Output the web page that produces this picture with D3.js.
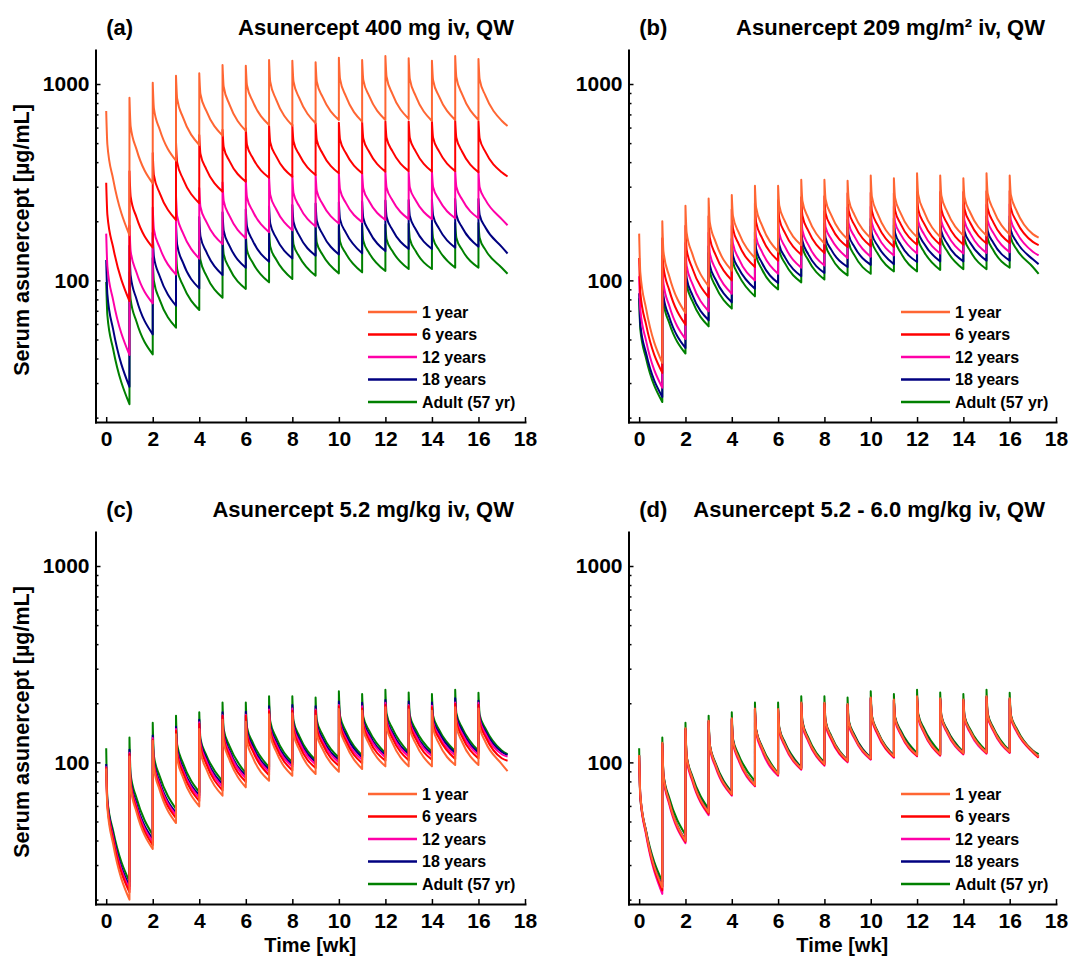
<!DOCTYPE html>
<meta charset="utf-8">
<style>
body { margin: 0; background: #fff; }
text { font-family: "Liberation Sans", Arial, sans-serif; font-weight: bold; fill: #000; }
</style>
<svg width="1070" height="957"></svg>
<script src="https://d3js.org/d3.v7.min.js"></script>
<script>

// series / legend
var seriesNames = ["1 year", "6 years", "12 years", "18 years", "Adult (57 yr)"];
var seriesColors = ["#ff6633", "#ff0000", "#ff00a8", "#000080", "#008000"];

// time axis: weekly doses, samples within each dosing week
var doseWeeks = [0, 1, 2, 3, 4, 5, 6, 7, 8, 9, 10, 11, 12, 13, 14, 15, 16];
var sampleOffsets = [0, 0.05, 0.3, 1];
var endTime = 17.25;

var xTicks = [0, 2, 4, 6, 8, 10, 12, 14, 16, 18];
var yMajorTicks = [100, 1000];
var yMinorTicks = [20, 30, 40, 50, 60, 70, 80, 90, 200, 300, 400, 500, 600, 700, 800, 900];

// (a) 400 mg  -- rows: 1y, 6y, 12y, 18y, adult ; values in ug/mL
var peakA = [
  [729, 851, 1016, 1102, 1133, 1250, 1240, 1325, 1315, 1289, 1362, 1325, 1389, 1352, 1315, 1389, 1341],
  [314, 360, 445, 505, 550, 585, 595, 615, 620, 630, 635, 640, 645, 645, 645, 650, 645],
  [173, 190, 235, 270, 295, 315, 325, 335, 340, 345, 350, 352, 356, 356, 358, 360, 358],
  [127, 150, 175, 195, 210, 222, 230, 238, 242, 246, 250, 252, 255, 257, 258, 260, 260],
  [98, 110, 130, 145, 157, 166, 173, 180, 183, 186, 189, 190, 192, 194, 195, 196, 196]
];
var earlyA = [
  [492, 611, 752, 842, 889, 968, 985, 1028, 1032, 1030, 1062, 1050, 1089, 1062, 1045, 1084, 1059],
  [216, 268, 343, 399, 442, 478, 491, 505, 511, 519, 522, 528, 532, 531, 532, 532, 530],
  [118, 141, 182, 212, 237, 254, 265, 273, 279, 286, 290, 294, 297, 297, 299, 300, 298],
  [85.1, 106, 132, 152, 168, 179, 188, 195, 199, 202, 205, 208, 211, 213, 214, 216, 216],
  [66.5, 80, 99.3, 114, 127, 136, 143, 149, 153, 156, 158, 159, 162, 163, 164, 165, 165]
];
var midA = [
  [327, 466, 587, 676, 731, 786, 816, 835, 847, 859, 867, 869, 891, 871, 867, 885, 873],
  [147, 210, 278, 329, 369, 405, 420, 429, 436, 443, 445, 452, 455, 454, 455, 452, 451],
  [79.1, 110, 147, 174, 199, 213, 225, 231, 238, 245, 248, 253, 256, 256, 258, 258, 257],
  [56.1, 80.4, 105, 123, 140, 150, 159, 165, 169, 172, 175, 178, 181, 182, 184, 186, 186],
  [44.6, 61.7, 79.6, 94.2, 106, 115, 123, 128, 132, 135, 137, 138, 141, 141, 143, 143, 143]
];
var troughA = [
  [170, 312, 407, 489, 546, 577, 618, 614, 631, 656, 643, 656, 664, 648, 656, 656, 650],
  [78.5, 147, 203, 247, 283, 318, 333, 337, 344, 351, 351, 358, 360, 358, 360, 355, 355],
  [41.7, 76.4, 107, 129, 153, 164, 176, 180, 188, 195, 198, 203, 205, 205, 207, 207, 205],
  [28.7, 53.1, 74.3, 91.0, 106.5, 116, 124.5, 129.4, 133.6, 135.6, 137.3, 141, 144.5, 144.5, 146.6, 148.4, 148],
  [23.4, 42.0, 57.4, 70.6, 81.6, 90.4, 97.7, 101.6, 105.6, 108.6, 109.9, 111.6, 114.2, 114.2, 116, 116, 116]
];
var endA = [611, 338, 191, 137, 108];

// (b) 209 mg/m2
var peakB = [
  [173, 200, 240, 261, 272, 303, 303, 325, 325, 322, 342, 331, 351, 342, 331, 351, 342],
  [130, 164, 190, 212, 230, 247, 256, 265, 268, 278, 279, 278, 282, 282, 282, 284, 285],
  [105, 133, 155, 175, 190, 205, 213, 220, 224, 235, 237, 238, 242, 242, 242, 243, 244],
  [86, 112, 131, 149, 163, 177, 183, 191, 195, 203, 206, 207, 210, 211, 211, 212, 212],
  [81, 104, 122, 138, 152, 163, 170, 178, 181, 186, 188, 191, 191, 193, 194, 194, 196]
];
var earlyB = [
  [110, 140, 175, 198, 213, 235, 241, 254, 259, 258, 267, 264, 274, 271, 265, 277, 273],
  [86.8, 117, 144, 165, 184, 198, 207, 214, 220, 226, 226, 228, 230, 230, 231, 233, 234],
  [70.9, 96.5, 119, 138, 154, 166, 174, 180, 187, 195, 196, 198, 200, 200, 201, 202, 203],
  [59.7, 83.1, 103, 120, 134, 145, 152, 159, 165, 171, 173, 175, 177, 178, 178, 179, 180],
  [56.2, 77.3, 95.6, 111, 124, 134, 142, 148, 152, 156, 158, 160, 161, 162, 163, 164, 165]
];
var midB = [
  [71.8, 105, 136, 157, 175, 191, 199, 208, 214, 215, 218, 219, 224, 224, 221, 228, 226],
  [59.5, 89.2, 115, 135, 153, 165, 174, 179, 187, 191, 191, 193, 195, 195, 196, 197, 199],
  [49.2, 74.2, 95.9, 114, 129, 140, 148, 152, 162, 167, 168, 171, 172, 172, 173, 174, 175],
  [42.5, 65.1, 84.1, 101, 115, 123, 131, 136, 143, 148, 150, 152, 154, 154, 155, 155, 157],
  [40.0, 60.7, 78.3, 93.2, 106, 114, 122, 127, 131, 134, 137, 138, 140, 141, 141, 142, 144]
];
var troughB = [
  [38.0, 68.2, 93.2, 112, 130, 140, 151, 154, 162, 164, 161, 166, 166, 169, 169, 171, 172],
  [33.8, 59.5, 82.0, 100, 117, 126, 135, 138, 148, 149, 148, 152, 152, 152, 154, 155, 157],
  [28.4, 50.3, 69.6, 85.5, 100, 108, 116, 119, 130, 132, 134, 137, 137, 137, 138, 139, 140],
  [25.5, 45.3, 62.6, 77.3, 90.7, 96.9, 105, 109, 117, 120, 121, 124, 125, 125, 126, 126, 128],
  [24.0, 42.4, 58.3, 71.8, 82.9, 90.0, 97.7, 101, 106, 108, 111, 111, 113, 114, 114, 116, 117]
];
var endB = [165, 151, 134, 121, 108];

// (c) 5.2 mg/kg
var peakC = [
  [93.2, 107, 129, 139, 148, 165, 161, 176, 178, 173, 187, 183, 191, 186, 183, 191, 188],
  [94.3, 110, 130, 145, 157, 172, 173, 182, 183, 183, 193, 188, 196, 193, 191, 198, 196],
  [95.4, 112, 133, 148, 160, 174, 175, 186, 188, 186, 196, 193, 201, 196, 194, 202, 201],
  [98, 116, 137, 152, 165, 180, 181, 193, 196, 193, 204, 201, 208, 204, 202, 212, 206],
  [118, 134, 159, 173, 180, 202, 202, 217, 217, 214, 230, 223, 234, 227, 223, 234, 226]
];
var earlyC = [
  [58.7, 75.0, 93.8, 105, 114, 127, 128, 139, 141, 139, 148, 148, 152, 149, 149, 153, 152],
  [60.8, 77.3, 96.3, 110, 121, 133, 137, 145, 147, 148, 155, 154, 158, 157, 156, 161, 159],
  [61.9, 79.1, 98.5, 113, 125, 136, 140, 149, 152, 151, 159, 158, 163, 161, 160, 165, 165],
  [63.8, 81.9, 102, 117, 129, 141, 145, 154, 157, 157, 164, 164, 168, 167, 166, 172, 169],
  [65.1, 86.8, 108, 123, 132, 147, 151, 162, 163, 164, 173, 171, 177, 174, 173, 178, 175]
];
var midC = [
  [38.2, 55.9, 72.2, 83.8, 92.5, 103, 106, 114, 116, 117, 123, 124, 126, 125, 125, 127, 127],
  [40.3, 58.0, 75.1, 88.4, 98.3, 108, 114, 120, 122, 124, 129, 130, 133, 132, 133, 135, 135],
  [41.4, 59.8, 77.3, 91.1, 102, 112, 117, 124, 127, 128, 133, 135, 138, 137, 137, 140, 140],
  [42.7, 61.8, 79.6, 93.8, 105, 115, 121, 128, 131, 132, 138, 139, 142, 141, 142, 145, 144],
  [44.7, 66.0, 85.0, 99.1, 109, 121, 126, 134, 136, 138, 144, 145, 149, 147, 147, 150, 149]
];
var troughC = [
  [20.0, 36.2, 49.1, 59.7, 67.7, 74.6, 80.6, 85.5, 87.2, 89.6, 92.5, 95.4, 95.4, 95.4, 96.9, 96.9, 98.1],
  [21.8, 37.9, 52, 63.5, 72, 79.5, 86, 91, 93.5, 96, 99, 102, 102.5, 103, 104, 104.5, 105],
  [22.6, 39.4, 54, 66, 75, 83, 89.5, 95, 97.5, 100, 103, 106, 107, 107.5, 108.5, 109, 110],
  [23.4, 40.7, 55.5, 68, 77.5, 85.5, 92, 97.5, 100, 103, 106, 109, 110, 110.5, 111.5, 112, 113],
  [24.7, 42.7, 58, 70.5, 80, 88, 94.5, 100, 102.5, 105.5, 108.5, 111.5, 112.5, 113, 114, 114.5, 115]
];
var endC = [90.3, 102, 107, 109, 110];

// (d) 5.2 - 6.0 mg/kg
var peakD = [
  [109, 126, 149, 163, 168, 188, 187, 202, 201, 198, 214, 209, 217, 212, 209, 217, 212],
  [108, 124, 148, 162, 166, 187, 185, 200, 199, 196, 212, 207, 215, 210, 207, 215, 210],
  [106, 123, 145, 159, 164, 184, 182, 197, 196, 193, 209, 204, 212, 207, 204, 212, 207],
  [109, 125, 148, 162, 167, 188, 186, 201, 200, 197, 213, 208, 216, 211, 208, 216, 211],
  [118, 134, 159, 173, 180, 202, 202, 217, 217, 214, 230, 223, 234, 227, 223, 234, 226]
];
var earlyD = [
  [68.4, 86.0, 108, 123, 129, 146, 149, 159, 161, 161, 171, 168, 173, 172, 170, 175, 173],
  [67.7, 85.1, 107, 122, 128, 145, 147, 158, 159, 159, 169, 167, 172, 170, 168, 173, 171],
  [66.3, 83.4, 104, 119, 126, 142, 144, 155, 156, 156, 166, 164, 169, 167, 166, 171, 168],
  [68.6, 86.3, 108, 123, 130, 147, 149, 160, 161, 161, 171, 169, 174, 172, 171, 176, 173],
  [65.1, 86.8, 108, 123, 132, 147, 151, 162, 163, 164, 173, 171, 177, 174, 173, 178, 175]
];
var midD = [
  [44.3, 63.1, 82.5, 97.3, 105, 119, 123, 131, 134, 135, 142, 141, 144, 144, 144, 147, 146],
  [43.6, 62.4, 81.6, 96.4, 104, 118, 122, 130, 132, 134, 140, 140, 143, 143, 143, 146, 145],
  [42.6, 61.0, 79.9, 94.6, 102, 115, 120, 128, 130, 132, 138, 138, 141, 141, 141, 144, 143],
  [44.5, 63.3, 82.8, 97.6, 105, 119, 124, 131, 134, 136, 142, 142, 145, 145, 144, 147, 146],
  [44.7, 66.0, 85.0, 99.1, 109, 121, 126, 134, 136, 138, 144, 145, 149, 147, 147, 150, 149]
];
var troughD = [
  [23.1, 39.9, 55.6, 69.0, 76.7, 87.2, 93.2, 98, 102, 104.8, 107.3, 109, 109.8, 111.6, 112.4, 113.3, 114],
  [22.3, 39.4, 54.8, 68.4, 76.1, 86.4, 92.5, 97.1, 101, 104, 106.5, 108, 109, 110.7, 111.5, 112.4, 113],
  [21.4, 38.8, 53.9, 67.7, 75.5, 85.5, 91.7, 96.2, 100, 103.2, 105.6, 107.3, 108.1, 109.8, 110.7, 111.6, 112.3],
  [23.3, 40.2, 56, 69.3, 77, 87.5, 93.5, 98.3, 102.3, 105, 107.5, 109.3, 110, 111.8, 112.6, 113.5, 114.2],
  [24.7, 42.7, 58, 70.5, 80, 88, 94.5, 100, 102.5, 105.5, 108.5, 111.5, 112.5, 113, 114, 114.5, 115]
];
var endD = [107, 106, 105.6, 107.5, 110];


var svg = d3.select("svg");

var panels = [
  {tag: "(a)", title: "Asunercept 400 mg iv, QW", left: 95.5, right: 525, top: 50, bottom: 422,
   peak: peakA, early: earlyA, mid: midA, trough: troughA, end: endA, ylab: true, xlab: false},
  {tag: "(b)", title: "Asunercept 209 mg/m\u00b2 iv, QW", left: 628.5, right: 1056, top: 50, bottom: 422,
   peak: peakB, early: earlyB, mid: midB, trough: troughB, end: endB, ylab: false, xlab: false},
  {tag: "(c)", title: "Asunercept 5.2 mg/kg iv, QW", left: 95.5, right: 525, top: 532, bottom: 904,
   peak: peakC, early: earlyC, mid: midC, trough: troughC, end: endC, ylab: true, xlab: true},
  {tag: "(d)", title: "Asunercept 5.2 - 6.0 mg/kg iv, QW", left: 628.5, right: 1056, top: 532, bottom: 904,
   peak: peakD, early: earlyD, mid: midD, trough: troughD, end: endD, ylab: false, xlab: true}
];

panels.forEach(function(p) {
  var x = d3.scaleLinear().domain([-0.46, 18]).range([p.left, p.right]);
  var y = d3.scaleLog().domain([19, 1490]).range([p.bottom, p.top]);
  var g = svg.append("g");

  var line = d3.line()
    .x(function(d) { return x(d[0]); })
    .y(function(d) { return y(d[1]); })
    .curve(d3.curveMonotoneX);

  // adult drawn first, 1 year last (on top)
  [4, 3, 2, 1, 0].forEach(function(s) {
    var vals = [p.peak[s], p.early[s], p.mid[s], p.trough[s]];
    var d = doseWeeks.map(function(w, k) {
      var pts = vals.map(function(v, j) { return [w + sampleOffsets[j], v[k]]; });
      if (k == doseWeeks.length - 1) pts.push([endTime, p.end[s]]);
      var str = line(pts);
      return k ? "L" + str.slice(1) : str;
    }).join("");
    g.append("path")
      .attr("d", d)
      .attr("fill", "none")
      .attr("stroke", seriesColors[s])
      .attr("stroke-width", 2)
      .attr("stroke-linejoin", "round");
  });

  // axes
  var xAxis = g.append("g")
    .attr("transform", "translate(0," + p.bottom + ")")
    .call(d3.axisBottom(x).tickValues(xTicks).tickSizeInner(-5).tickSizeOuter(0).tickPadding(9));
  xAxis.attr("font-size", 21);

  var yAxis = g.append("g")
    .attr("transform", "translate(" + p.left + ",0)")
    .call(d3.axisLeft(y).tickValues(yMajorTicks).tickSizeInner(-5).tickSizeOuter(0)
      .tickPadding(6).tickFormat(d3.format("d")));
  yAxis.attr("font-size", 21);

  g.append("g")
    .attr("transform", "translate(" + p.left + ",0)")
    .call(d3.axisLeft(y).tickValues(yMinorTicks).tickSizeInner(-3).tickSizeOuter(0).tickFormat(""))
    .select(".domain").remove();

  g.selectAll(".domain")
    .attr("stroke", "#000")
    .attr("stroke-width", 2)
    .attr("stroke-linecap", "square");
  g.selectAll(".tick line").attr("stroke-width", 1.5);

  // titles
  g.append("text")
    .attr("x", x(0))
    .attr("y", p.top - 15)
    .attr("font-size", 22)
    .text(p.tag);
  g.append("text")
    .attr("x", p.right - 11)
    .attr("y", p.top - 15)
    .attr("text-anchor", "end")
    .attr("font-size", 22)
    .text(p.title);

  if (p.ylab) {
    g.append("text")
      .attr("transform", "translate(28.5," + ((p.top + p.bottom) / 2 + 4) + ") rotate(-90)")
      .attr("text-anchor", "middle")
      .attr("font-size", 21.5)
      .text("Serum asunercept [\u00b5g/mL]");
  }
  if (p.xlab) {
    g.append("text")
      .attr("x", (p.left + p.right) / 2)
      .attr("y", 952)
      .attr("text-anchor", "middle")
      .attr("font-size", 20)
      .text("Time [wk]");
  }

  // legend
  var leg = g.append("g")
    .attr("transform", "translate(" + (p.left + 272.5) + "," + (p.top + 262) + ")");
  seriesNames.forEach(function(name, i) {
    var row = leg.append("g").attr("transform", "translate(0," + (i * 22.5) + ")");
    row.append("line")
      .attr("x1", 0).attr("x2", 49)
      .attr("stroke", seriesColors[i])
      .attr("stroke-width", 2.5);
    row.append("text")
      .attr("x", 54)
      .attr("dy", "0.35em")
      .attr("font-size", 16)
      .text(name);
  });
});

</script>
